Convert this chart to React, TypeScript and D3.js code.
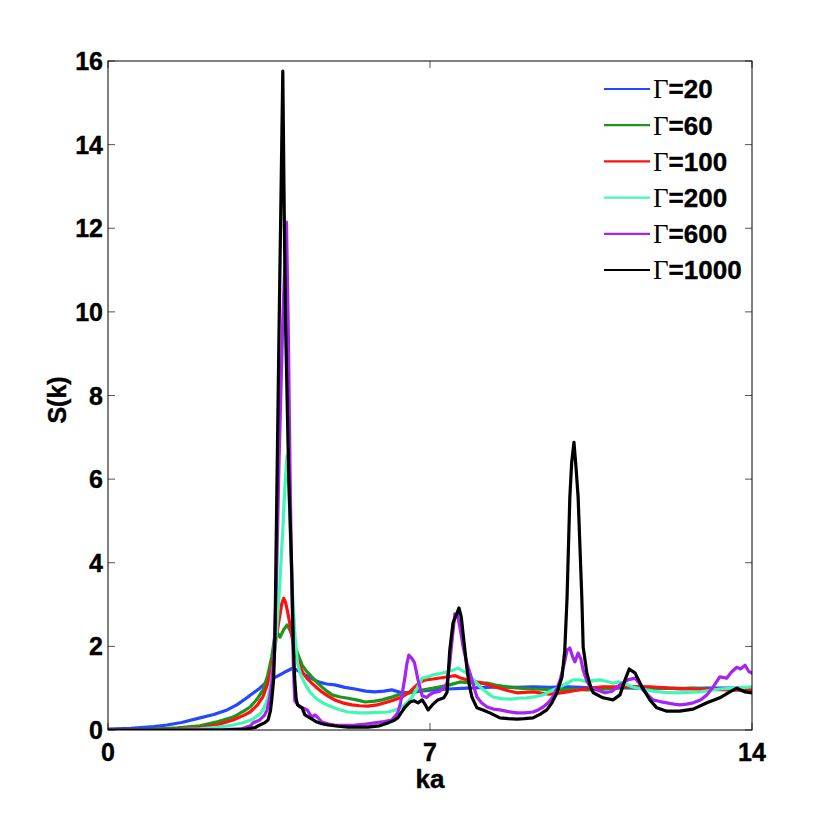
import React from "react";
import * as d3 from "d3";

type P = [number, number];

const xTicks = [0, 7, 14];
const yTicks = [0, 2, 4, 6, 8, 10, 12, 14, 16];
const labels = ["=20", "=60", "=100", "=200", "=600", "=1000"];
const colors = ["#2447ff", "#1c961c", "#ff1111", "#42f7b4", "#a524f2", "#000000"];

const g20: P[] = [[0,0.02],[0.5,0.04],[1.0,0.08],[1.28,0.12],[1.6,0.18],[2.0,0.29],[2.3,0.37],[2.59,0.48],[2.8,0.6],[3.02,0.77],[3.15,0.88],[3.3,1.0],[3.42,1.12],[3.52,1.2],[3.63,1.26],[3.74,1.32],[3.87,1.4],[4.0,1.47],[4.1,1.44],[4.28,1.32],[4.45,1.22],[4.57,1.15],[4.75,1.1],[4.93,1.08],[5.15,1.02],[5.37,0.98],[5.6,0.93],[5.8,0.91],[6.0,0.93],[6.17,0.96],[6.39,0.89],[6.6,0.9],[6.8,0.93],[7.07,0.96],[7.4,0.98],[7.8,1.0],[8.2,1.02],[8.52,1.03],[8.9,1.02],[9.24,1.03],[9.6,1.02],[10.0,1.03],[10.26,1.02],[10.6,1.0],[11.0,1.01],[11.5,1.0],[12.0,1.0],[12.5,0.99],[13.0,1.0],[13.5,1.0],[14,1.0]];

const g60: P[] = [[0,0.01],[0.5,0.01],[1.0,0.02],[1.5,0.05],[2.0,0.1],[2.4,0.2],[2.72,0.31],[2.95,0.45],[3.09,0.55],[3.25,0.75],[3.37,0.96],[3.47,1.3],[3.56,1.75],[3.63,2.27],[3.7,2.3],[3.74,2.22],[3.82,2.4],[3.89,2.51],[3.95,2.4],[4.02,2.22],[4.07,1.99],[4.15,1.75],[4.22,1.55],[4.32,1.4],[4.43,1.27],[4.55,1.13],[4.65,1.03],[4.76,0.93],[4.87,0.84],[5.05,0.79],[5.22,0.76],[5.4,0.72],[5.59,0.67],[5.8,0.69],[5.96,0.72],[6.15,0.78],[6.3,0.84],[6.57,0.89],[6.8,0.95],[7.07,1.0],[7.25,1.04],[7.43,1.08],[7.65,1.15],[7.93,1.12],[8.24,1.12],[8.45,1.07],[8.67,1.03],[8.95,1.0],[9.24,0.98],[9.55,0.97],[9.83,0.96],[10.1,0.98],[10.4,0.96],[10.7,0.97],[11.0,1.0],[11.3,1.03],[11.6,1.02],[12.0,1.0],[12.4,0.99],[12.72,1.0],[13.0,0.98],[13.4,0.97],[13.7,0.96],[14,0.95]];

const g100: P[] = [[0,0.0],[1.0,0.01],[1.5,0.02],[2.0,0.05],[2.4,0.13],[2.72,0.24],[2.95,0.35],[3.09,0.43],[3.25,0.6],[3.37,0.8],[3.47,1.1],[3.56,1.5],[3.62,1.9],[3.67,2.3],[3.73,2.7],[3.78,3.03],[3.82,3.15],[3.86,3.05],[3.91,2.8],[3.96,2.5],[4.0,2.22],[4.05,1.95],[4.11,1.72],[4.17,1.52],[4.24,1.36],[4.33,1.23],[4.43,1.12],[4.54,1.01],[4.65,0.91],[4.8,0.8],[4.93,0.72],[5.1,0.65],[5.3,0.6],[5.47,0.58],[5.65,0.57],[5.85,0.6],[6.02,0.65],[6.2,0.71],[6.39,0.79],[6.55,0.9],[6.67,1.03],[6.78,1.14],[6.9,1.2],[7.07,1.22],[7.25,1.25],[7.43,1.28],[7.55,1.3],[7.65,1.25],[7.8,1.2],[8.0,1.15],[8.15,1.12],[8.35,1.05],[8.52,1.0],[8.7,0.94],[8.89,0.89],[9.05,0.9],[9.24,0.91],[9.42,0.88],[9.6,0.86],[9.8,0.88],[9.98,0.91],[10.2,0.95],[10.5,1.0],[10.76,1.03],[11.0,1.03],[11.4,1.04],[11.8,1.03],[12.2,1.0],[12.72,0.98],[13.1,0.97],[13.5,0.96],[13.8,0.96],[14,0.95]];

const g200: P[] = [[0,0],[1.5,0.01],[2.0,0.03],[2.4,0.07],[2.72,0.12],[2.95,0.18],[3.15,0.26],[3.3,0.38],[3.37,0.48],[3.44,0.65],[3.48,0.79],[3.54,1.1],[3.59,1.5],[3.66,2.3],[3.73,3.4],[3.8,4.8],[3.85,5.9],[3.89,6.55],[3.93,5.8],[3.97,4.4],[4.01,3.3],[4.06,2.32],[4.12,1.6],[4.18,1.35],[4.24,1.2],[4.31,1.05],[4.39,0.91],[4.48,0.8],[4.57,0.72],[4.72,0.62],[4.87,0.55],[5.05,0.48],[5.22,0.43],[5.45,0.41],[5.65,0.41],[5.87,0.42],[6.09,0.43],[6.25,0.48],[6.39,0.55],[6.5,0.65],[6.61,0.79],[6.72,1.0],[6.83,1.24],[6.95,1.27],[7.07,1.32],[7.22,1.35],[7.37,1.39],[7.5,1.43],[7.61,1.48],[7.7,1.42],[7.8,1.36],[7.95,1.2],[8.09,1.03],[8.23,0.9],[8.37,0.79],[8.55,0.75],[8.74,0.74],[8.92,0.76],[9.11,0.77],[9.3,0.8],[9.46,0.84],[9.6,0.92],[9.76,1.0],[9.95,1.1],[10.11,1.2],[10.26,1.2],[10.41,1.15],[10.55,1.18],[10.7,1.2],[10.85,1.16],[10.98,1.12],[11.1,1.15],[11.2,1.12],[11.41,1.03],[11.6,0.98],[11.85,0.93],[12.1,0.9],[12.37,0.89],[12.6,0.9],[12.87,0.91],[13.1,0.95],[13.3,0.98],[13.6,1.0],[14,1.03]];

const g600: P[] = [[0,0],[2.0,0.0],[2.5,0.01],[2.9,0.03],[3.1,0.1],[3.15,0.17],[3.3,0.24],[3.4,0.35],[3.46,0.48],[3.52,0.8],[3.56,1.12],[3.6,1.6],[3.66,3.5],[3.72,6.5],[3.8,9.8],[3.88,12.15],[3.92,9.5],[3.96,6.0],[3.99,3.8],[4.03,1.5],[4.06,0.7],[4.17,0.55],[4.25,0.52],[4.33,0.48],[4.43,0.31],[4.5,0.36],[4.56,0.3],[4.65,0.19],[4.8,0.14],[4.93,0.12],[5.15,0.11],[5.37,0.12],[5.6,0.14],[5.8,0.17],[6.0,0.2],[6.17,0.24],[6.3,0.41],[6.36,0.65],[6.41,0.96],[6.46,1.3],[6.5,1.6],[6.54,1.79],[6.6,1.72],[6.66,1.62],[6.74,1.2],[6.83,0.82],[6.93,0.78],[7.0,0.85],[7.07,0.89],[7.2,0.92],[7.3,1.0],[7.37,1.12],[7.43,1.6],[7.48,2.15],[7.54,2.78],[7.6,2.75],[7.66,2.4],[7.72,1.99],[7.8,1.6],[7.87,1.36],[7.95,1.05],[8.02,0.79],[8.12,0.65],[8.24,0.55],[8.38,0.5],[8.52,0.48],[8.7,0.44],[8.89,0.41],[9.05,0.41],[9.24,0.43],[9.35,0.48],[9.46,0.55],[9.57,0.65],[9.67,0.79],[9.76,1.0],[9.83,1.2],[9.92,1.6],[9.98,1.91],[10.04,1.96],[10.1,1.75],[10.15,1.63],[10.22,1.84],[10.28,1.7],[10.33,1.43],[10.4,1.2],[10.48,1.03],[10.62,0.96],[10.8,0.89],[10.95,0.92],[11.13,1.08],[11.3,1.2],[11.46,1.24],[11.55,1.12],[11.63,0.96],[11.75,0.82],[11.85,0.72],[12.0,0.68],[12.15,0.65],[12.3,0.62],[12.43,0.6],[12.58,0.62],[12.72,0.65],[12.88,0.72],[13.02,0.84],[13.15,1.02],[13.3,1.27],[13.45,1.24],[13.55,1.38],[13.67,1.5],[13.75,1.46],[13.85,1.55],[13.93,1.4],[14,1.36]];

const g1000: P[] = [[0,0],[2.5,0.0],[3.0,0.02],[3.2,0.06],[3.3,0.12],[3.4,0.17],[3.48,0.24],[3.53,0.45],[3.56,0.72],[3.6,1.2],[3.63,2.2],[3.65,4.0],[3.72,9.7],[3.8,15.76],[3.83,12.5],[3.86,9.7],[3.93,6.0],[3.99,4.0],[4.03,2.0],[4.06,1.2],[4.09,0.75],[4.12,0.6],[4.22,0.53],[4.28,0.36],[4.39,0.29],[4.54,0.19],[4.65,0.15],[4.78,0.12],[5.0,0.09],[5.22,0.07],[5.45,0.07],[5.65,0.07],[5.9,0.1],[6.09,0.17],[6.2,0.22],[6.3,0.29],[6.38,0.42],[6.46,0.55],[6.57,0.67],[6.65,0.7],[6.74,0.65],[6.83,0.72],[6.9,0.6],[6.96,0.48],[7.05,0.6],[7.17,0.72],[7.3,0.77],[7.37,0.9],[7.43,1.91],[7.5,2.56],[7.59,2.8],[7.63,2.92],[7.68,2.7],[7.74,2.1],[7.8,1.5],[7.85,1.1],[7.91,0.79],[8.02,0.53],[8.15,0.48],[8.3,0.41],[8.52,0.29],[8.7,0.27],[8.89,0.26],[9.05,0.27],[9.24,0.29],[9.4,0.38],[9.54,0.48],[9.65,0.65],[9.76,0.89],[9.87,1.27],[9.93,1.91],[9.98,3.18],[10.04,5.57],[10.08,6.4],[10.13,6.88],[10.18,6.2],[10.22,5.57],[10.3,3.18],[10.33,1.98],[10.36,1.75],[10.41,1.36],[10.5,1.0],[10.55,0.89],[10.76,0.77],[10.98,0.72],[11.13,0.84],[11.24,1.2],[11.33,1.46],[11.46,1.36],[11.61,1.03],[11.78,0.72],[11.93,0.53],[12.15,0.45],[12.43,0.45],[12.72,0.5],[13.02,0.65],[13.3,0.77],[13.5,0.9],[13.67,1.0],[13.85,0.91],[14,0.89]];

const series: P[][] = [g20, g60, g100, g200, g600, g1000];

const W = 830;
const H = 822;
const L = 108, R = 752, T = 61, B = 730;
const FONT = "'Liberation Sans', Arial, Helvetica, sans-serif";

export default function App() {
  const x = d3.scaleLinear().domain([0, 14]).range([L, R]);
  const y = d3.scaleLinear().domain([0, 16]).range([B, T]);
  const line = d3.line<P>().x((d) => x(d[0])).y((d) => y(d[1]));
  const tickLen = 7;
  return (
    <svg width={W} height={H} style={{ position: "absolute", left: 0, top: 0, background: "#fff" }}>
      <rect x={0} y={0} width={W} height={H} fill="#fff" />
      <defs>
        <clipPath id="plot">
          <rect x={L} y={T} width={R - L} height={B - T} />
        </clipPath>
      </defs>
      {yTicks.map((t) => (
        <g key={"y" + t}>
          <line x1={L} x2={L + tickLen} y1={y(t)} y2={y(t)} stroke="#555" strokeWidth={1} />
          <line x1={R} x2={R - tickLen} y1={y(t)} y2={y(t)} stroke="#555" strokeWidth={1} />
          <text x={L - 5} y={y(t)} dy="0.36em" textAnchor="end" fontFamily={FONT} fontWeight="bold" fontSize={25} stroke="#000" strokeWidth={0.4}>{t}</text>
        </g>
      ))}
      {xTicks.map((t) => (
        <g key={"x" + t}>
          <line x1={x(t)} x2={x(t)} y1={B} y2={B - tickLen} stroke="#555" strokeWidth={1} />
          <line x1={x(t)} x2={x(t)} y1={T} y2={T + tickLen} stroke="#555" strokeWidth={1} />
          <text x={x(t)} y={B + 31} textAnchor="middle" fontFamily={FONT} fontWeight="bold" fontSize={25} stroke="#000" strokeWidth={0.4}>{t}</text>
        </g>
      ))}
      <g clipPath="url(#plot)">
        {series.map((s, i) => (
          <path key={i} d={line(s) || ""} fill="none" stroke={colors[i]} strokeWidth={3.2} strokeLinejoin="round" strokeLinecap="round" />
        ))}
      </g>
      <rect x={L} y={T} width={R - L} height={B - T} fill="none" stroke="#000" strokeWidth={1} />
      <text x={(L + R) / 2} y={788} textAnchor="middle" fontFamily={FONT} fontWeight="bold" fontSize={26} stroke="#000" strokeWidth={0.4}>ka</text>
      <text transform={`translate(66,400) rotate(-90)`} textAnchor="middle" fontFamily={FONT} fontWeight="bold" fontSize={25} stroke="#000" strokeWidth={0.4}>S(k)</text>
      {labels.map((lab, i) => {
        const cy = 89 + i * 36.2;
        return (
          <g key={"l" + i}>
            <line x1={604} x2={650} y1={cy} y2={cy} stroke={colors[i]} strokeWidth={2.2} />
            <text x={653} y={cy} dy="0.36em" fontSize={26}>
              <tspan fontFamily="'Liberation Serif', 'Times New Roman', serif" fontSize={27}>Γ</tspan>
              <tspan fontFamily={FONT} fontWeight="bold" stroke="#000" strokeWidth={0.4}>{lab}</tspan>
            </text>
          </g>
        );
      })}
    </svg>
  );
}
